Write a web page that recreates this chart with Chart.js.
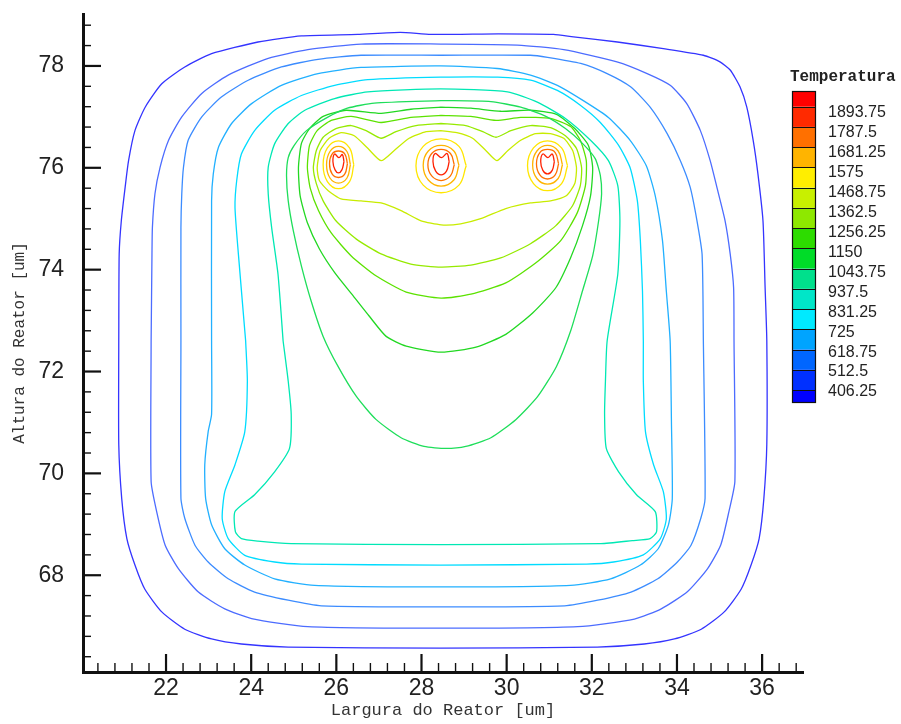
<!DOCTYPE html>
<html lang="pt">
<head>
<meta charset="UTF-8">
<title>Temperatura</title>
<script src="https://cdn.jsdelivr.net/npm/chart.js@4.4.1/dist/chart.umd.min.js"></script>
<style>
  body { margin: 0; background: #fff; }
</style>
</head>
<body>
<canvas id="chart" width="901" height="724"></canvas>
<script>
// contour levels (ascending) and the colour each line is drawn in
const levels = [406.25, 512.5, 618.75, 725, 831.25, 937.5, 1043.75, 1150, 1256.25, 1362.5, 1468.75, 1575, 1681.25, 1787.5, 1893.75];
const lineColors = ['#3434ff', '#4c6cff', '#3c8cff', '#22b0ff', '#00dcff', '#00e8b4', '#1ede5a', '#22d822', '#5ce200', '#96ea00', '#c8ec00', '#ffe600', '#ffb400', '#ff7000', '#ff2000'];

// colour bar, top to bottom
const legendColors = ['#ff0000', '#ff2a00', '#ff7000', '#ffb400', '#ffee00', '#c8f000', '#8ee800', '#2ddc00', '#00dc28', '#00e08c', '#00e6c8', '#00eaff', '#00a4ff', '#0066ff', '#0030ff', '#0000ff'];
const legendLabels = ['1893.75', '1787.5', '1681.25', '1575', '1468.75', '1362.5', '1256.25', '1150', '1043.75', '937.5', '831.25', '725', '618.75', '512.5', '406.25'];

const xTicks = [22, 24, 26, 28, 30, 32, 34, 36];
const yTicks = [68, 70, 72, 74, 76, 78];

// contour lines, [x, y] in um
const c406 = [[20.89,72.60],[20.90,74.31],[20.95,74.96],[21.04,75.62],[21.12,76.14],[21.27,76.73],[21.51,77.19],[21.90,77.65],[22.44,77.98],[23.07,78.24],[24.16,78.47],[25.18,78.59],[26.5,78.62],[27.5,78.66],[28.22,78.62],[29.8,78.63],[31.10,78.62],[31.57,78.57],[32.60,78.47],[33.68,78.34],[34.62,78.21],[35.01,78.08],[35.25,77.92],[35.48,77.59],[35.64,77.19],[35.79,76.54],[35.90,75.89],[36.02,74.96],[36.07,73.65],[36.11,72.60],[36.11,70.57],[36.04,69.50],[35.93,68.72],[35.74,68.20],[35.51,67.73],[35.11,67.28],[34.57,66.94],[33.94,66.75],[33.23,66.65],[32.13,66.59],[28.45,66.57],[24.87,66.59],[23.77,66.65],[23.07,66.75],[22.44,66.94],[21.90,67.28],[21.50,67.73],[21.27,68.20],[21.08,68.72],[20.96,69.50],[20.89,70.57],[20.89,72.60]];
const c512 = [[21.65,72.60],[21.67,74.31],[21.68,74.83],[21.74,75.49],[21.86,76.01],[22.06,76.54],[22.37,77.00],[22.84,77.46],[23.46,77.82],[24.40,78.15],[25.33,78.32],[26.58,78.43],[28.45,78.43],[30.25,78.41],[31.34,78.32],[32.59,78.08],[33.30,77.85],[33.84,77.62],[34.23,77.26],[34.55,76.73],[34.78,76.14],[34.94,75.61],[35.13,74.96],[35.25,74.31],[35.33,73.65],[35.34,72.60],[35.36,69.84],[35.22,69.25],[35.03,68.60],[34.72,68.13],[34.25,67.68],[33.63,67.34],[33.00,67.14],[31.67,66.99],[28.45,66.96],[25.33,66.99],[24.01,67.15],[23.38,67.34],[22.76,67.67],[22.29,68.13],[21.98,68.59],[21.78,69.25],[21.65,69.84],[21.65,72.60]];
const c618 = [[22.35,72.60],[22.35,74.83],[22.37,75.49],[22.41,76.01],[22.52,76.54],[22.84,77.00],[23.30,77.39],[23.93,77.72],[24.71,77.98],[25.57,78.13],[26.58,78.21],[28.45,78.21],[30.56,78.21],[30.96,78.17],[31.74,78.05],[32.36,77.85],[32.91,77.59],[33.37,77.19],[33.77,76.67],[34.08,76.14],[34.31,75.62],[34.47,74.96],[34.59,74.30],[34.62,72.60],[34.66,69.51],[34.56,69.12],[34.33,68.59],[34.01,68.26],[33.55,67.93],[32.92,67.67],[32.14,67.51],[31.36,67.40],[28.45,67.38],[25.65,67.40],[24.87,67.51],[24.08,67.67],[23.46,67.93],[22.99,68.26],[22.68,68.59],[22.44,69.12],[22.35,69.51],[22.35,72.60]];
const c725 = [[23.07,72.60],[23.07,75.35],[23.11,75.88],[23.23,76.40],[23.54,76.87],[24.01,77.26],[24.71,77.62],[25.57,77.85],[26.58,77.97],[28.45,78.00],[29.78,77.95],[30.56,77.82],[31.19,77.62],[31.80,77.32],[32.39,76.99],[32.90,76.54],[33.28,76.04],[33.49,75.45],[33.66,74.57],[33.75,73.58],[33.84,72.60],[33.87,71.02],[33.89,69.50],[33.80,68.99],[33.56,68.52],[33.14,68.20],[32.44,67.93],[31.50,67.80],[28.45,67.77],[25.49,67.80],[24.55,67.93],[23.85,68.20],[23.38,68.52],[23.07,68.99],[22.93,69.51],[22.91,70.17],[22.99,70.82],[23.07,71.16],[23.07,72.60]];
const c831 = [[23.87,72.60],[23.70,74.30],[23.62,75.22],[23.66,75.75],[23.77,76.27],[24.08,76.73],[24.55,77.13],[25.18,77.42],[25.96,77.62],[26.74,77.73],[28.45,77.78],[29.79,77.78],[30.56,77.72],[31.19,77.52],[31.73,77.23],[32.20,76.89],[32.63,76.44],[32.90,76.00],[33.07,75.35],[33.14,74.57],[33.19,73.58],[33.21,72.60],[33.21,71.81],[33.26,70.82],[33.45,70.17],[33.68,69.64],[33.75,69.11],[33.61,68.72],[33.21,68.40],[32.51,68.26],[31.88,68.22],[28.45,68.20],[25.18,68.22],[24.55,68.26],[23.85,68.39],[23.46,68.72],[23.32,69.11],[23.38,69.64],[23.62,70.17],[23.85,70.82],[23.91,71.81],[23.87,72.60]];
const c937 = [[24.75,72.60],[24.63,73.91],[24.48,74.83],[24.40,75.49],[24.40,76.01],[24.55,76.47],[24.87,76.87],[25.26,77.13],[25.96,77.36],[26.74,77.49],[28.45,77.55],[30.02,77.49],[30.72,77.29],[31.38,76.97],[31.97,76.54],[32.39,76.14],[32.61,75.65],[32.66,74.96],[32.61,73.91],[32.36,72.60],[32.32,71.81],[32.30,71.16],[32.34,70.49],[32.63,70.03],[33.05,69.58],[33.49,69.25],[33.52,68.85],[33.37,68.72],[32.95,68.68],[32.21,68.62],[28.45,68.60],[24.94,68.62],[24.16,68.67],[23.77,68.72],[23.63,68.85],[23.62,69.25],[24.08,69.58],[24.55,70.03],[24.90,70.49],[24.94,71.16],[24.87,71.81],[24.75,72.60]];
const c1043 = [[28.46,77.32],[29.63,77.30],[30.33,77.19],[30.92,77.01],[31.38,76.77],[31.78,76.48],[32.08,76.18],[32.20,75.85],[32.23,75.49],[32.16,74.96],[32.02,74.27],[31.78,73.58],[31.50,72.79],[31.17,72.10],[30.73,71.51],[30.22,71.06],[29.63,70.70],[29.04,70.53],[28.57,70.49],[28.06,70.53],[27.52,70.70],[26.93,71.06],[26.47,71.51],[26.04,72.10],[25.69,72.69],[25.41,73.38],[25.18,74.07],[24.99,74.76],[24.87,75.35],[24.83,75.85],[24.87,76.20],[25.01,76.44],[25.30,76.73],[25.79,76.99],[26.26,77.17],[26.89,77.27],[28.46,77.32]];
const c1150 = [[28.46,77.19],[29.16,77.17],[29.86,77.11],[30.56,77.13],[31.17,77.05],[31.60,76.77],[31.92,76.44],[32.02,76.00],[31.97,75.45],[31.78,74.86],[31.50,74.23],[31.15,73.64],[30.61,73.15],[29.98,72.73],[29.28,72.48],[28.46,72.38],[27.64,72.50],[27.17,72.69],[26.77,73.09],[26.40,73.48],[25.97,73.93],[25.60,74.41],[25.32,74.92],[25.15,75.45],[25.11,76.00],[25.18,76.48],[25.37,76.77],[25.69,77.01],[26.23,77.13],[27.05,77.07],[27.75,77.15],[28.46,77.19]];
const c1256 = [[28.46,77.03],[29.16,77.01],[29.75,76.93],[30.33,76.99],[31.03,76.97],[31.50,76.81],[31.73,76.54],[31.87,76.14],[31.85,75.65],[31.66,75.12],[31.27,74.57],[30.68,74.13],[29.98,73.74],[29.16,73.52],[28.46,73.44],[27.64,73.56],[26.93,73.88],[26.35,74.27],[25.88,74.72],[25.58,75.16],[25.39,75.59],[25.32,76.00],[25.37,76.44],[25.55,76.73],[25.88,76.93],[26.35,77.01],[27.05,76.89],[27.75,76.99],[28.46,77.03]];
const c1362 = [[28.46,76.87],[29.04,76.83],[29.44,76.71],[29.75,76.60],[30.10,76.73],[30.56,76.83],[31.03,76.79],[31.38,76.63],[31.64,76.38],[31.76,76.00],[31.73,75.65],[31.55,75.26],[31.15,74.86],[30.56,74.51],[29.86,74.23],[29.16,74.09],[28.46,74.05],[27.75,74.11],[27.05,74.31],[26.47,74.60],[25.99,74.96],[25.69,75.35],[25.53,75.69],[25.46,76.00],[25.53,76.34],[25.69,76.60],[25.99,76.77],[26.35,76.83],[26.70,76.73],[27.05,76.58],[27.40,76.71],[27.87,76.83],[28.46,76.87]];
const c1468 = [[28.46,76.73],[28.83,76.69],[29.20,76.58],[29.51,76.34],[29.77,76.14],[30.03,76.34],[30.33,76.54],[30.68,76.67],[31.03,76.67],[31.34,76.58],[31.55,76.34],[31.64,76.00],[31.60,75.69],[31.40,75.45],[31.03,75.35],[30.56,75.31],[29.98,75.20],[29.39,75.00],[28.92,74.90],[28.46,74.88],[27.99,74.96],[27.52,75.16],[27.05,75.31],[26.58,75.35],[26.11,75.39],[25.81,75.55],[25.60,75.75],[25.55,76.00],[25.62,76.34],[25.83,76.58],[26.11,76.69],[26.42,76.63],[26.72,76.40],[27.05,76.14],[27.36,76.34],[27.71,76.58],[28.11,76.71],[28.46,76.73]];

// closed rings round the three heaters (left, middle, right)
const h1575 = [
  [[26.41,76.06],[26.31,76.39],[26.05,76.53],[25.79,76.39],[25.69,76.06],[25.79,75.73],[26.05,75.59],[26.31,75.73],[26.41,76.06]],
  [[29.05,76.04],[28.88,76.42],[28.46,76.57],[28.04,76.42],[27.87,76.04],[28.04,75.66],[28.46,75.51],[28.88,75.66],[29.05,76.04]],
  [[31.43,76.04],[31.29,76.39],[30.96,76.53],[30.63,76.39],[30.49,76.04],[30.63,75.69],[30.96,75.55],[31.29,75.69],[31.43,76.04]]
];
const h1681 = [
  [[26.33,76.06],[26.25,76.32],[26.05,76.42],[25.85,76.32],[25.77,76.06],[25.85,75.80],[26.05,75.70],[26.25,75.80],[26.33,76.06]],
  [[28.88,76.05],[28.76,76.33],[28.46,76.44],[28.16,76.33],[28.04,76.05],[28.16,75.76],[28.46,75.64],[28.76,75.76],[28.88,76.05]],
  [[31.31,76.06],[31.21,76.33],[30.96,76.44],[30.71,76.33],[30.61,76.06],[30.71,75.79],[30.96,75.68],[31.21,75.79],[31.31,76.06]]
];
const h1787 = [
  [[26.26,76.08],[26.20,76.27],[26.05,76.33],[25.90,76.27],[25.84,76.08],[25.90,75.88],[26.05,75.81],[26.20,75.88],[26.26,76.08]],
  [[28.77,76.06],[28.68,76.28],[28.46,76.36],[28.24,76.28],[28.15,76.06],[28.24,75.84],[28.46,75.75],[28.68,75.84],[28.77,76.06]],
  [[31.22,76.08],[31.14,76.30],[30.96,76.36],[30.78,76.30],[30.70,76.08],[30.78,75.86],[30.96,75.78],[31.14,75.86],[31.22,76.08]]
];
const h1893 = [
  [[26.18,76.12],[26.14,76.26],[26.06,76.20],[25.96,76.27],[25.92,76.12],[25.97,75.96],[26.05,75.90],[26.13,75.96],[26.18,76.12]],
  [[28.65,76.12],[28.60,76.28],[28.47,76.20],[28.32,76.28],[28.27,76.12],[28.33,75.94],[28.46,75.86],[28.59,75.94],[28.65,76.12]],
  [[31.12,76.12],[31.07,76.27],[30.97,76.20],[30.85,76.27],[30.80,76.12],[30.85,75.95],[30.96,75.88],[31.07,75.95],[31.12,76.12]]
];

const curves = [
  [406.25, [c406]], [512.5, [c512]], [618.75, [c618]], [725, [c725]], [831.25, [c831]],
  [937.5, [c937]], [1043.75, [c1043]], [1150, [c1150]], [1256.25, [c1256]], [1362.5, [c1362]],
  [1468.75, [c1468]], [1575, h1575], [1681.25, h1681], [1787.5, h1787], [1893.75, h1893]
];

const datasets = [];
curves.forEach(([lv, paths]) => {
  paths.forEach(p => {
    datasets.push({
      label: String(lv),
      data: p.map(([x, y]) => ({x, y})),
      borderColor: lineColors[levels.indexOf(lv)],
      borderWidth: 1.3,
      pointRadius: 0,
      showLine: true,
      fill: false,
      tension: lv >= 1575 ? 0.4 : 0.2
    });
  });
});

// inward tick marks like the original plot
const tickMarks = {
  id: 'tickMarks',
  afterDraw(chart) {
    const ctx = chart.ctx;
    const xs = chart.scales.x, ys = chart.scales.y;
    const {left, bottom} = chart.chartArea;
    ctx.save();
    ctx.strokeStyle = '#111';
    for (let v = 20.4; v < 37; v += 0.4) {
      const r = Math.round(v * 10) / 10;
      const major = xTicks.includes(r);
      const px = xs.getPixelForValue(r);
      ctx.lineWidth = major ? 2.2 : 1.4;
      ctx.beginPath();
      ctx.moveTo(px, bottom);
      ctx.lineTo(px, bottom - (major ? 18 : 9));
      ctx.stroke();
    }
    for (let v = 66.4; v < 79; v += 0.4) {
      const r = Math.round(v * 10) / 10;
      const major = yTicks.includes(r);
      const py = ys.getPixelForValue(r);
      ctx.lineWidth = major ? 2.2 : 1.4;
      ctx.beginPath();
      ctx.moveTo(left, py);
      ctx.lineTo(left + (major ? 18 : 8), py);
      ctx.stroke();
    }
    ctx.restore();
  }
};

// colour bar legend on the right
const colorBar = {
  id: 'colorBar',
  afterDraw(chart) {
    const ctx = chart.ctx;
    const x0 = 792, w = 23, top = 91, bot = 402;
    const seps = legendLabels.map((_, i) => 106.7 + i * 20.24);
    const edges = [top, ...seps, bot];
    ctx.save();
    legendColors.forEach((c, i) => {
      ctx.fillStyle = c;
      ctx.fillRect(x0, edges[i], w, edges[i + 1] - edges[i]);
    });
    ctx.strokeStyle = '#111';
    ctx.lineWidth = 1;
    seps.forEach(s => {
      ctx.beginPath();
      ctx.moveTo(x0, Math.round(s) + 0.5);
      ctx.lineTo(x0 + w, Math.round(s) + 0.5);
      ctx.stroke();
    });
    ctx.lineWidth = 1.2;
    ctx.strokeRect(x0 + 0.5, top + 0.5, w, bot - top);
    ctx.fillStyle = '#222';
    ctx.font = '16px "Liberation Sans", Arial, sans-serif';
    ctx.textAlign = 'left';
    ctx.textBaseline = 'middle';
    legendLabels.forEach((t, i) => ctx.fillText(t, 828, 113 + i * 19.93));
    ctx.font = 'bold 16px "Liberation Mono", "Courier New", monospace';
    ctx.fillText('Temperatura', 790, 77);
    ctx.restore();
  }
};

new Chart(document.getElementById('chart'), {
  type: 'scatter',
  data: { datasets },
  options: {
    responsive: false,
    animation: false,
    devicePixelRatio: 1,
    layout: { padding: { left: 0, top: 14, right: 98, bottom: 0 } },
    plugins: { legend: { display: false }, tooltip: { enabled: false } },
    scales: {
      x: {
        type: 'linear',
        min: 20.05,
        max: 36.96,
        afterFit: s => { s.height = 52; s.paddingLeft = 0; s.paddingRight = 0; },
        afterBuildTicks: s => { s.ticks = xTicks.map(v => ({value: v})); },
        grid: { display: false, drawTicks: false },
        border: { display: true, color: '#111', width: 3 },
        ticks: {
          autoSkip: false, maxRotation: 0, padding: 3, color: '#222',
          font: { family: '"Liberation Sans", Arial, sans-serif', size: 23 }
        },
        title: {
          display: true, text: 'Largura do Reator [um]', color: '#333',
          font: { family: '"Liberation Mono", "Courier New", monospace', size: 17 },
          padding: { top: 0, bottom: 3 }
        }
      },
      y: {
        type: 'linear',
        min: 66.1,
        max: 79.02,
        afterFit: s => { s.width = 83; s.paddingTop = 0; s.paddingBottom = 0; },
        afterBuildTicks: s => { s.ticks = yTicks.map(v => ({value: v})); },
        grid: { display: false, drawTicks: false },
        border: { display: true, color: '#111', width: 3 },
        ticks: {
          autoSkip: false, padding: 19, color: '#222',
          font: { family: '"Liberation Sans", Arial, sans-serif', size: 23 }
        },
        title: {
          display: true, text: 'Altura do Reator [um]', color: '#333',
          font: { family: '"Liberation Mono", "Courier New", monospace', size: 16 },
          padding: { top: 10, bottom: 0 }
        }
      }
    }
  },
  plugins: [tickMarks, colorBar]
});
</script>
</body>
</html>
